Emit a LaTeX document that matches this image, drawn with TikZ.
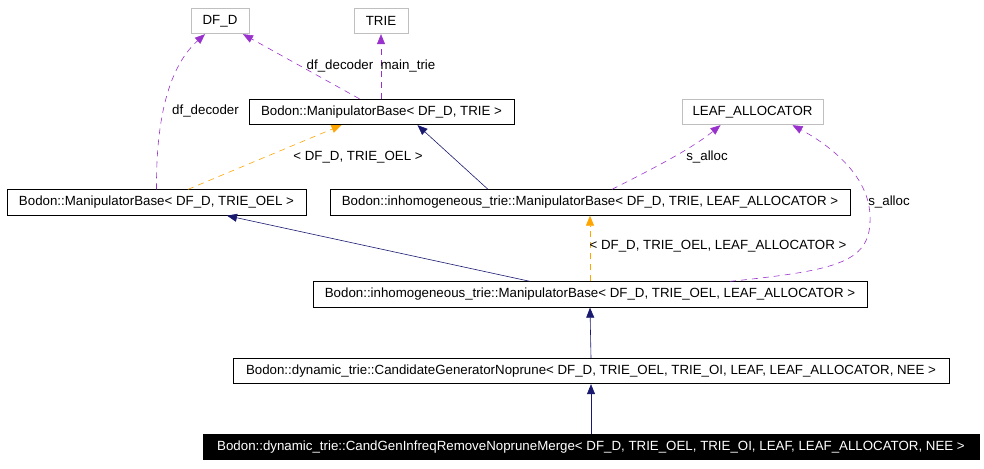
\documentclass[tikz,border=0pt]{standalone}
\usepackage{fontspec}
\setmainfont{Liberation Sans}
\usetikzlibrary{arrows.meta}
\definecolor{edgepurple}{RGB}{153,50,204}
\definecolor{edgeorange}{RGB}{255,165,0}
\definecolor{edgenavy}{RGB}{25,25,112}
\definecolor{boxgray}{RGB}{191,191,191}
\tikzset{
  cls/.style={draw=black, line width=0.8pt, fill=white, inner sep=0pt, minimum height=25.5, font=\fontsize{13.3}{15}\selectfont, text=black},
  gcls/.style={cls, draw=boxgray},
  dcls/.style={cls, draw=black, fill=black, text=white},
  lbl/.style={inner sep=0pt, font=\fontsize{13.3}{15}\selectfont, text=black},
  tip/.style={-{Triangle[length=10pt,width=8pt]}},
  usage/.style={tip, edgepurple, dash pattern=on 6pt off 5pt, line width=0.6pt},
  templ/.style={tip, edgeorange, dash pattern=on 6pt off 5pt, line width=0.6pt},
  inherit/.style={tip, edgenavy, line width=0.6pt},
}
\begin{document}
\begin{tikzpicture}[x=1pt,y=-1pt]
\useasboundingbox (0,0) rectangle (984,468);
\node[gcls, minimum width=58] (dfd) at (220,21) {DF\_D};
\node[gcls, minimum width=54] (trie) at (381,21) {TRIE};
\node[cls, minimum width=265] (mb1) at (381.5,112) {Bodon::ManipulatorBase< DF\_D, TRIE >};
\node[gcls, minimum width=141] (leaf) at (752.5,112) {LEAF\_ALLOCATOR};
\node[cls, minimum width=299] (mb2) at (156.5,202.5) {Bodon::ManipulatorBase< DF\_D, TRIE\_OEL >};
\node[cls, minimum width=520] (ih1) at (590,202.5) {Bodon::inhomogeneous\_trie::ManipulatorBase< DF\_D, TRIE, LEAF\_ALLOCATOR >};
\node[cls, minimum width=554] (ih2) at (590,294.5) {Bodon::inhomogeneous\_trie::ManipulatorBase< DF\_D, TRIE\_OEL, LEAF\_ALLOCATOR >};
\node[cls, minimum width=716] (cg) at (591,371) {Bodon::dynamic\_trie::CandidateGeneratorNoprune< DF\_D, TRIE\_OEL, TRIE\_OI, LEAF, LEAF\_ALLOCATOR, NEE >};
\node[dcls, minimum width=776] (cgi) at (591,447) {Bodon::dynamic\_trie::CandGenInfreqRemoveNopruneMerge< DF\_D, TRIE\_OEL, TRIE\_OI, LEAF, LEAF\_ALLOCATOR, NEE >};
% edges
\draw[usage] ([xshift=-22]mb1.north) -- ([xshift=23]dfd.south);
\node[lbl] (l1) at (340,66) {df\_decoder};
\draw[usage] ([xshift=-0.5]mb1.north) -- ([xshift=0]trie.south);
\node[lbl] (l2) at (408,66) {main\_trie};
\draw[usage] (mb2.north) .. controls (156,130) and (165,70) .. ([xshift=-15]dfd.south);
\node[lbl] (l3) at (205.5,111) {df\_decoder};
\draw[templ] ([xshift=31.5]mb2.north) -- ([xshift=-40]mb1.south);
\node[lbl] (l4) at (358,157) {< DF\_D, TRIE\_OEL >};
\draw[inherit] ([xshift=-102]ih1.north) -- ([xshift=36]mb1.south);
\draw[usage] ([xshift=22]ih1.north) .. controls (650,170) and (690,150) .. ([xshift=-32]leaf.south);
\node[lbl] (l5) at (707,157) {s\_alloc};
\draw[inherit] ([xshift=-60]ih2.north) -- ([xshift=70.5]mb2.south);
\draw[templ] (ih2.north) -- (ih1.south);
\node[lbl] (l6) at (718,246) {< DF\_D, TRIE\_OEL, LEAF\_ALLOCATOR >};
\draw[usage] ([xshift=140]ih2.north) .. controls (840,270) and (872,262) .. (870,215) .. controls (868,170) and (820,140) .. ([xshift=40]leaf.south);
\node[lbl] (l7) at (889,202) {s\_alloc};
\draw[inherit] (cg.north) -- (ih2.south);
\draw[inherit] (cgi.north) -- (cg.south);
\end{tikzpicture}
\end{document}
